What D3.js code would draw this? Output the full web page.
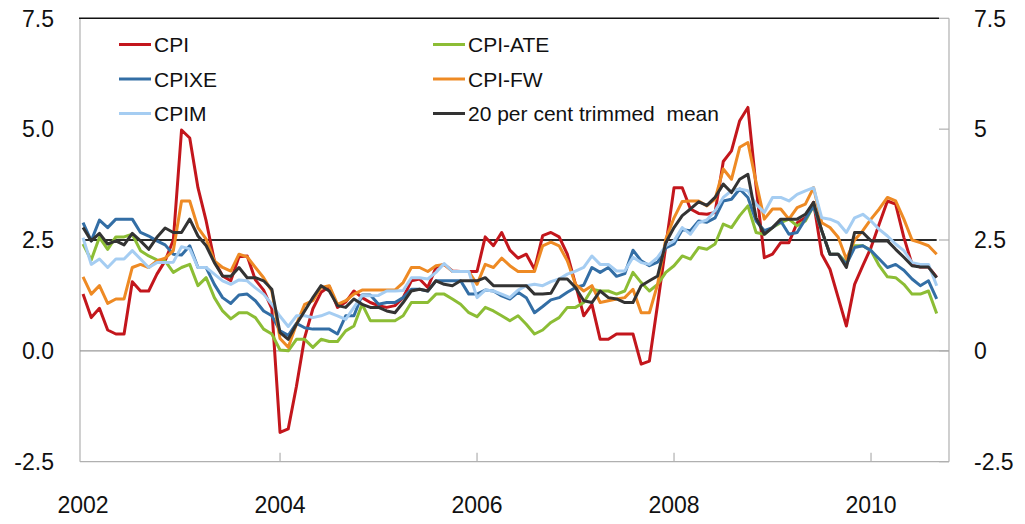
<!DOCTYPE html>
<html>
<head>
<meta charset="utf-8">
<script src="https://cdn.jsdelivr.net/npm/d3@7"></script>
<style>
  html, body { margin: 0; padding: 0; background: #fff; }
  svg { display: block; font-family: "Liberation Sans", Arial, sans-serif; }
</style>
</head>
<body>
<div id="chart"></div>
<script>
// Monthly 12-month rates, Jan 2002 .. Sep 2010 (index 0 = Jan 2002)
const yearLabels = ["2002", "2004", "2006", "2008", "2010"];
const yearMonths = [0, 24, 48, 72, 96];
const leftTicks = ["-2.5", "0.0", "2.5", "5.0", "7.5"];
const rightTicks = ["-2.5", "0", "2.5", "5", "7.5"];
const tickValues = [-2.5, 0, 2.5, 5, 7.5];

const cpi = [1.28,0.75,0.96,0.47,0.38,0.38,1.56,1.35,1.35,1.73,2.03,2.5,4.98,4.8,3.68,2.93,2.03,1.69,1.58,2.12,
  2.14,1.6,1.37,0.95,-1.84,-1.76,-0.8,0.3,0.95,1.32,1.45,0.98,1.1,1.35,1.2,1.09,1.02,0.98,1.02,1.2,
  1.58,1.62,1.43,1.88,1.95,1.8,1.79,1.79,1.79,2.57,2.37,2.67,2.27,2.09,2.18,1.84,2.6,2.67,2.57,2.18,
  1.5,0.79,1.05,0.26,0.26,0.38,0.38,0.38,-0.3,-0.23,1.05,2.37,3.68,3.68,3.2,3.1,3.08,3.12,4.27,4.51,
  5.19,5.49,3.7,2.1,2.18,2.44,2.44,2.89,3.0,3.35,2.18,1.84,1.2,0.56,1.5,1.92,2.33,2.86,3.38,3.31,
  2.56,1.95,1.89,1.89,1.66];
const cpiAte = [2.41,2.05,2.56,2.29,2.57,2.57,2.63,2.26,2.14,2.05,2.03,1.77,1.88,1.95,1.47,1.65,1.2,0.9,0.72,0.86,
  0.86,0.75,0.49,0.38,0.02,0.0,0.26,0.26,0.08,0.26,0.21,0.21,0.45,0.56,1.05,0.68,0.68,0.68,0.68,0.79,
  1.09,1.09,1.09,1.28,1.28,1.17,1.05,0.86,0.77,0.98,0.9,0.79,0.68,0.79,0.6,0.38,0.47,0.64,0.75,0.98,
  0.98,1.09,1.39,1.35,1.35,1.28,1.35,1.77,1.54,1.35,1.5,1.77,1.92,2.14,2.07,2.33,2.29,2.41,2.86,2.78,
  3.05,3.27,2.67,2.63,2.78,2.89,2.97,2.82,2.93,3.27,2.71,2.18,2.18,1.99,2.37,2.37,2.26,1.92,1.67,1.65,
  1.5,1.28,1.28,1.35,0.84];
const cpixe = [2.89,2.48,2.95,2.78,2.97,2.97,2.97,2.67,2.59,2.48,2.39,2.18,2.16,2.37,1.88,1.88,1.5,1.2,1.07,1.26,
  1.28,1.13,0.9,0.79,0.45,0.35,0.62,0.52,0.49,0.49,0.49,0.38,0.79,0.79,1.26,1.26,1.05,1.09,1.09,1.2,
  1.39,1.39,1.35,1.58,1.58,1.58,1.58,1.28,1.28,1.37,1.35,1.24,1.17,1.32,1.2,0.86,1.0,1.15,1.2,1.32,
  1.43,1.48,1.88,1.77,1.88,1.68,1.74,2.27,2.03,1.92,2.0,2.32,2.41,2.73,2.71,2.93,2.9,3.0,3.38,3.42,
  3.65,3.46,2.93,2.71,2.78,2.93,2.63,2.67,2.97,3.27,2.71,2.18,2.18,1.95,2.33,2.37,2.26,2.07,1.88,1.95,
  1.82,1.62,1.47,1.58,1.17];
const cpiFw = [1.67,1.28,1.47,1.07,1.17,1.17,1.88,1.95,1.88,2.03,2.09,2.26,3.38,3.38,2.78,2.52,2.03,1.88,1.8,2.18,
  2.12,1.88,1.65,1.35,0.28,0.08,0.6,1.05,1.13,1.43,1.47,1.05,1.13,1.28,1.37,1.37,1.37,1.37,1.37,1.54,
  1.88,1.88,1.79,1.92,1.95,1.79,1.79,1.79,1.5,1.95,1.88,2.09,1.92,1.79,1.79,1.79,2.37,2.45,2.37,2.03,
  1.5,1.35,1.47,1.09,1.13,1.17,1.2,1.39,0.86,0.86,1.5,2.52,3.0,3.37,3.38,3.38,3.27,3.42,4.1,3.87,
  4.59,4.7,3.8,2.97,3.2,3.2,2.97,3.23,3.31,3.68,2.89,2.78,2.56,2.07,2.5,2.71,2.97,3.2,3.46,3.38,
  2.97,2.5,2.44,2.37,2.18];
const cpim = [2.55,1.95,2.07,1.88,2.07,2.07,2.26,2.07,1.88,1.99,1.99,2.0,2.35,2.3,1.88,1.88,1.73,1.58,1.5,1.6,
  1.58,1.42,1.28,1.05,0.78,0.55,0.79,0.79,0.75,0.79,0.86,0.79,0.71,0.98,1.25,1.24,1.25,1.35,1.35,1.36,
  1.65,1.65,1.62,1.77,1.97,1.79,1.79,1.79,1.2,1.37,1.35,1.28,1.2,1.37,1.47,1.5,1.47,1.56,1.62,1.73,
  1.8,1.88,2.14,1.95,1.95,1.8,1.8,2.11,1.99,1.95,2.11,2.37,2.48,2.78,2.63,2.89,2.95,3.16,3.46,3.61,
  3.65,3.61,3.31,3.12,3.46,3.46,3.38,3.53,3.61,3.68,3.0,2.97,2.89,2.67,3.0,3.08,2.93,2.74,2.59,2.41,
  2.26,1.99,1.95,1.95,1.47];
const trimmedMean = [2.78,2.48,2.65,2.41,2.48,2.39,2.65,2.48,2.29,2.56,2.77,2.67,2.67,2.97,2.59,2.37,1.99,1.69,1.68,1.88,
  1.65,1.65,1.58,1.39,0.41,0.26,0.6,0.9,1.2,1.47,1.35,1.02,0.98,1.17,1.05,0.98,0.98,0.9,0.86,1.09,
  1.35,1.39,1.35,1.58,1.5,1.47,1.58,1.58,1.58,1.65,1.47,1.47,1.47,1.47,1.47,1.28,1.28,1.3,1.62,1.62,
  1.43,1.13,1.09,1.35,1.2,1.17,1.09,1.09,1.47,1.58,1.69,2.44,2.78,3.05,3.2,3.36,3.28,3.46,3.76,3.57,
  3.87,3.98,3.0,2.63,2.78,2.97,2.97,2.97,3.08,3.35,2.71,2.18,2.18,1.88,2.67,2.67,2.48,2.48,2.48,2.29,
  2.11,1.92,1.89,1.89,1.65];

const seriesNames = ["CPI", "CPI-ATE", "CPIXE", "CPI-FW", "CPIM", "20 per cent trimmed  mean"];
const seriesValues = [cpi, cpiAte, cpixe, cpiFw, cpim, trimmedMean];
const seriesColors = ["#c3161c", "#8cbd35", "#336ea5", "#ee8a24", "#a5cdf2", "#333333"];

const width = 1025, height = 524;
const svg = d3.select("#chart").append("svg")
  .attr("width", width)
  .attr("height", height);

const x = d3.scaleLinear().domain([-0.37, 105.5]).range([80, 949]);
const y = d3.scaleLinear().domain([-2.5, 7.5]).range([461.7, 18.3]);
const lastMonth = cpi.length - 1;

// frame: left and right axis lines, bottom axis, top rule
svg.append("line").attr("x1", 80).attr("x2", 80).attr("y1", y(7.5)).attr("y2", y(-2.5))
  .attr("stroke", "#b0b0b0").attr("stroke-width", 1.2);
svg.append("line").attr("x1", 949).attr("x2", 949).attr("y1", y(7.5)).attr("y2", y(-2.5))
  .attr("stroke", "#b0b0b0").attr("stroke-width", 1.2);
svg.append("line").attr("x1", 80).attr("x2", 949).attr("y1", y(-2.5)).attr("y2", y(-2.5))
  .attr("stroke", "#b0b0b0").attr("stroke-width", 1.2);
svg.append("line").attr("x1", 79).attr("x2", 939).attr("y1", y(7.5)).attr("y2", y(7.5))
  .attr("stroke", "#111").attr("stroke-width", 1.4);

// zero line
svg.append("line").attr("x1", 80).attr("x2", 949).attr("y1", y(0)).attr("y2", y(0))
  .attr("stroke", "#9a9a9a").attr("stroke-width", 1.2);

// right axis ticks (pointing inward)
svg.selectAll(".rtick").data(tickValues).enter().append("line")
  .attr("x1", 939).attr("x2", 949)
  .attr("y1", d => y(d)).attr("y2", d => y(d))
  .attr("stroke", "#b0b0b0").attr("stroke-width", 1.2);

// bottom axis ticks (pointing up)
svg.selectAll(".btick").data(yearMonths.slice(1)).enter().append("line")
  .attr("x1", d => x(d)).attr("x2", d => x(d))
  .attr("y1", y(-2.5)).attr("y2", y(-2.5) - 9)
  .attr("stroke", "#b0b0b0").attr("stroke-width", 1.2);

// axis labels
svg.selectAll(".ltxt").data(tickValues).enter().append("text")
  .attr("x", 54).attr("y", d => y(d)).attr("dy", "0.36em")
  .attr("text-anchor", "end").attr("font-size", 23).attr("fill", "#111")
  .text((d, i) => leftTicks[i]);
svg.selectAll(".rtxt").data(tickValues).enter().append("text")
  .attr("x", 974).attr("y", d => y(d)).attr("dy", "0.36em")
  .attr("text-anchor", "start").attr("font-size", 23).attr("fill", "#111")
  .text((d, i) => rightTicks[i]);
svg.selectAll(".xtxt").data(yearMonths).enter().append("text")
  .attr("x", d => x(d)).attr("y", 505).attr("dy", "0.36em")
  .attr("text-anchor", "middle").attr("font-size", 23).attr("fill", "#111")
  .text((d, i) => yearLabels[i]);

// 2.5 reference line across the data period
svg.append("line").attr("x1", x(0)).attr("x2", x(lastMonth))
  .attr("y1", y(2.5)).attr("y2", y(2.5))
  .attr("stroke", "#2b2b2b").attr("stroke-width", 2);

// series lines
const line = d3.line().x((d, i) => x(i)).y(d => y(d));
seriesValues.forEach((vals, k) => {
  svg.append("path")
    .datum(vals)
    .attr("d", line)
    .attr("fill", "none")
    .attr("stroke", seriesColors[k])
    .attr("stroke-width", 3)
    .attr("stroke-linejoin", "round");
});

// legend: two columns, filled row by row
const legend = svg.append("g");
seriesNames.forEach((name, k) => {
  const col = k % 2, row = Math.floor(k / 2);
  const lx = col === 0 ? 119 : 433;
  const ly = 44.5 + row * 34.5;
  legend.append("line")
    .attr("x1", lx).attr("x2", lx + 32)
    .attr("y1", ly).attr("y2", ly)
    .attr("stroke", seriesColors[k]).attr("stroke-width", 3);
  legend.append("text")
    .attr("x", lx + 35).attr("y", ly).attr("dy", "0.36em")
    .attr("font-size", 21).attr("fill", "#111")
    .style("white-space", "pre")
    .text(name);
});
</script>
</body>
</html>
